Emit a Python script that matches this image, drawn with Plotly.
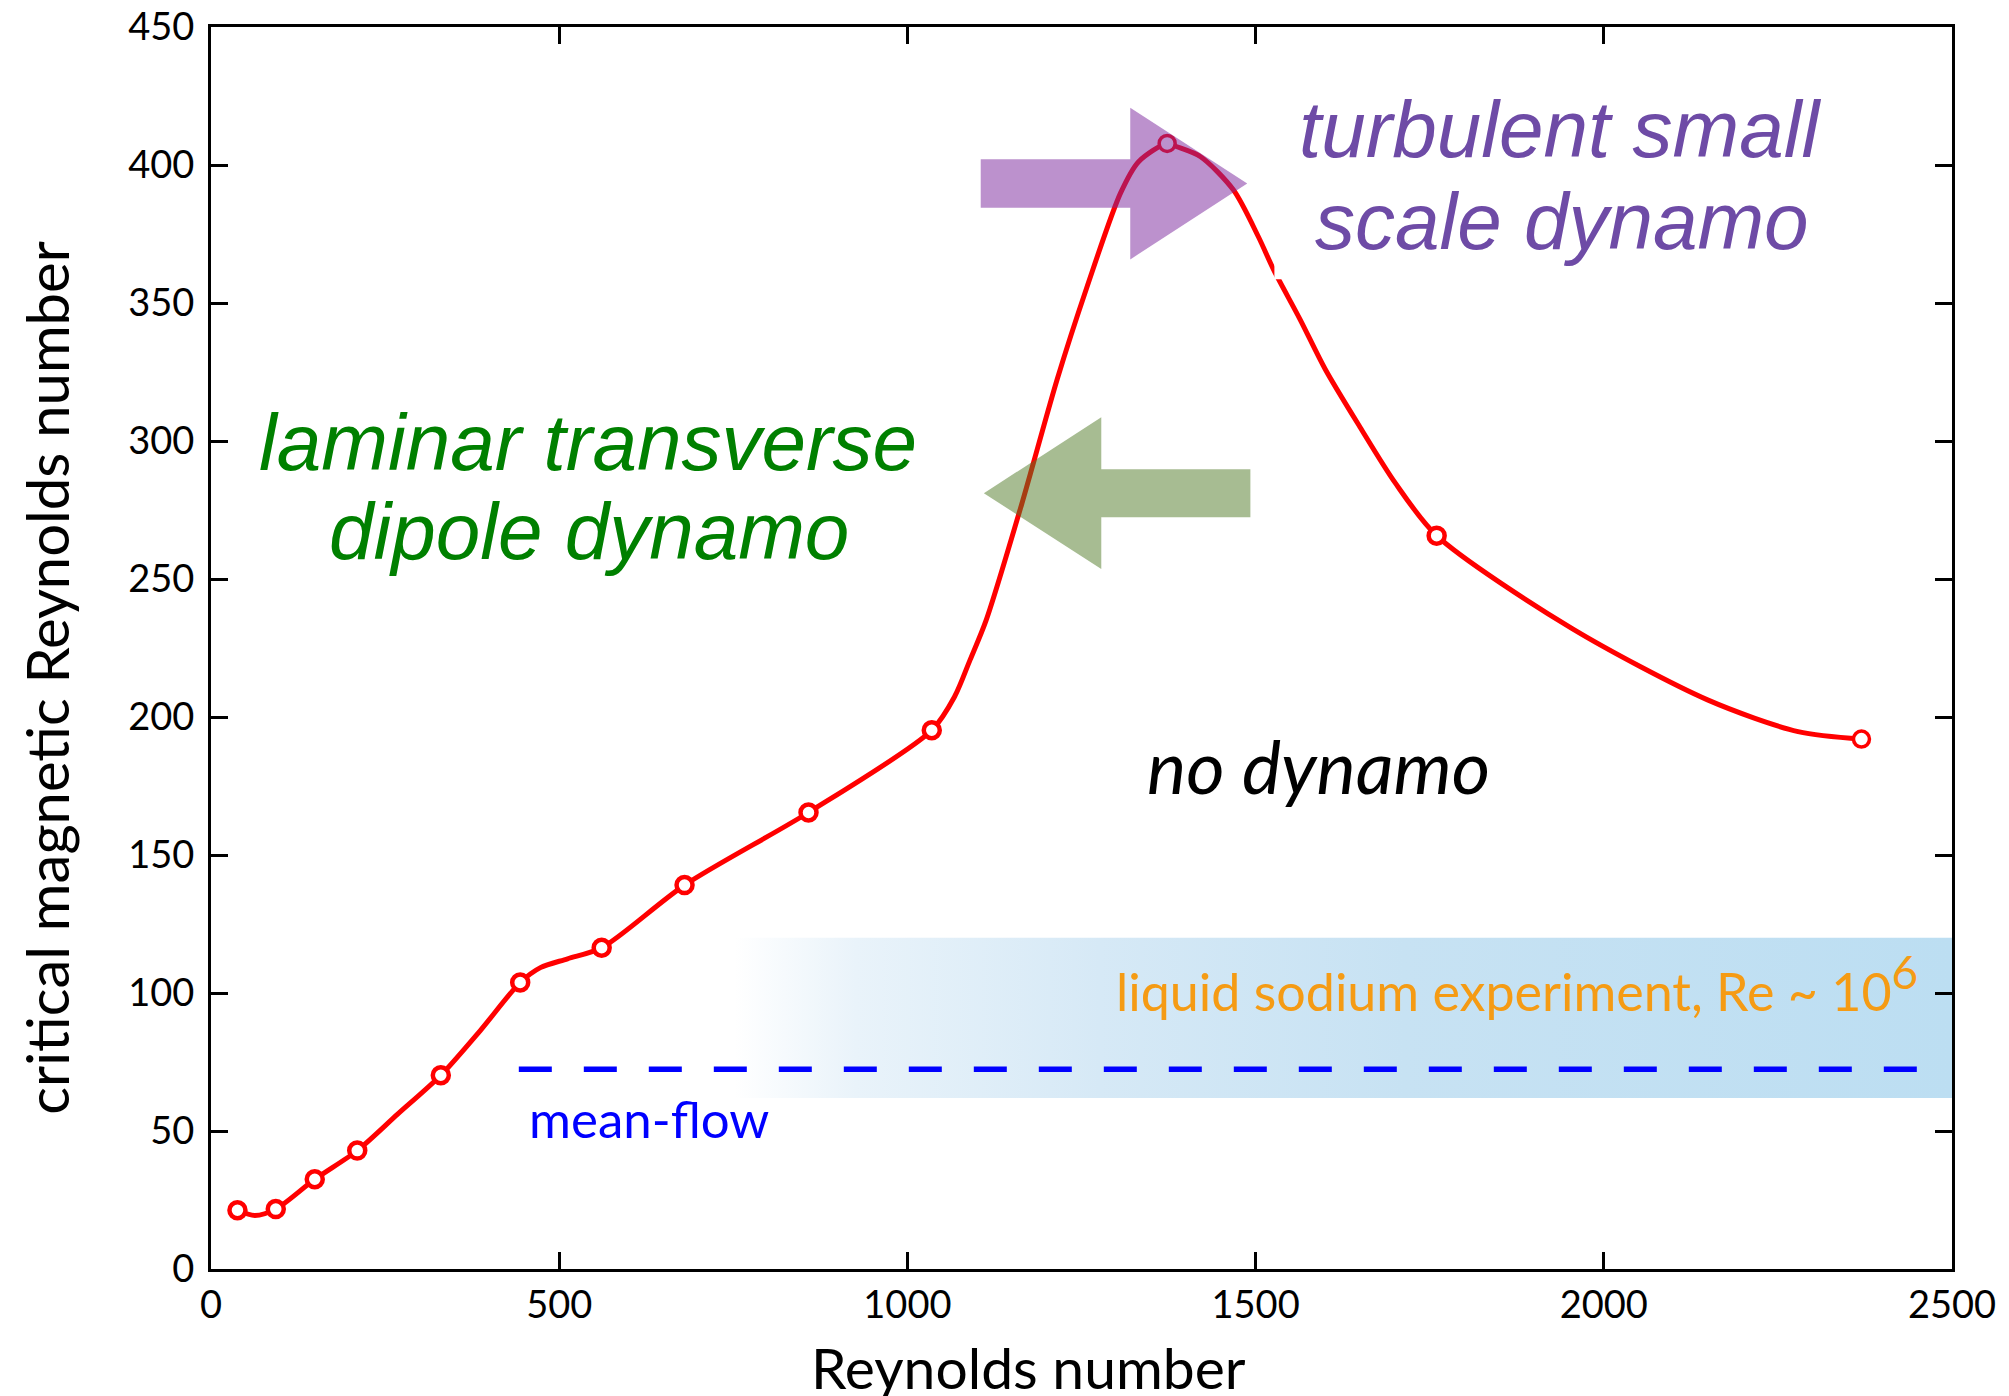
import plotly.graph_objects as go

# Critical magnetic Reynolds number from the simulations
re_points = [38, 93, 149, 210, 330, 444, 561, 680, 858, 1035, 1373, 1760, 2370]
rm_points = [21.3, 21.7, 32.5, 42.9, 70.2, 103.8, 116.4, 139.1, 165.4, 195.2, 407.8, 265.7, 192.0]

# Smooth guide curve drawn through the simulation results
curve_re = [38, 63, 93, 149, 210, 268, 330, 387, 444, 473, 512, 561, 680, 858,
            1035, 1068, 1090, 1113, 1164, 1215, 1258, 1306, 1332, 1373,
            1387, 1421, 1468, 1504, 1526, 1564, 1600, 1650, 1700, 1760,
            1954, 2149, 2279, 2370]
curve_rm = [21.3, 19.4, 21.7, 32.5, 42.9, 56.1, 70.2, 86.5, 103.8, 109.2, 112.4, 116.4, 139.1, 165.4,
            195.2, 207.5, 220.7, 235.0, 277.0, 322.3, 355.9, 389.8, 401.2, 407.8,
            406.6, 403.0, 391.0, 374.0, 362.0, 344.0, 326.0, 305.0, 285.0, 265.7,
            232.1, 206.2, 194.7, 192.0]

# Mean-flow dynamo threshold
meanflow_re = [442, 2464]
meanflow_rm = 72.4

# Parameter range reached by liquid sodium experiments
sodium_re = [752, 2500]
sodium_rm = [62, 120]

x_ticks = [0, 500, 1000, 1500, 2000, 2500]
y_ticks = [0, 50, 100, 150, 200, 250, 300, 350, 400, 450]

RED = "#FF0000"
MYRIAD = "Lato, 'Open Sans', sans-serif"
ARIAL = "'Liberation Sans', Arial, sans-serif"

fig = go.Figure()

# experiment band, fading in from the left
fig.add_trace(go.Scatter(
    x=[sodium_re[0], sodium_re[1], sodium_re[1], sodium_re[0], sodium_re[0]],
    y=[sodium_rm[0], sodium_rm[0], sodium_rm[1], sodium_rm[1], sodium_rm[0]],
    mode="none", fill="toself", hoverinfo="skip", showlegend=False,
    fillgradient=dict(
        type="horizontal",
        colorscale=[[0.0, "rgb(255,255,255)"],
                    [0.1, "rgb(233,243,250)"],
                    [0.3, "rgb(214,233,246)"],
                    [0.55, "rgb(199,226,243)"],
                    [1.0, "rgb(188,222,242)"]],
    ),
))

# mean-flow threshold
fig.add_trace(go.Scatter(
    x=meanflow_re, y=[meanflow_rm, meanflow_rm], mode="lines",
    line=dict(color="#0000FF", width=5.5, dash="33px,32px"),
    showlegend=False, hoverinfo="skip",
))

# guide curve
fig.add_trace(go.Scatter(
    x=curve_re, y=curve_rm, mode="lines",
    line=dict(color=RED, width=5, shape="spline", smoothing=0.8),
    showlegend=False, hoverinfo="skip",
))

# simulation points
marker_widths = [4.5] * 10 + [3.5, 4.5, 3.5]
fig.add_trace(go.Scatter(
    x=re_points, y=rm_points, mode="markers",
    marker=dict(symbol="circle", size=16, color="white",
                line=dict(color=RED, width=marker_widths)),
    showlegend=False,
))


def arrow_path(points):
    return "M " + " L ".join(f"{x},{y}" for x, y in points) + " Z"


# arrow pointing towards the turbulent regime
purple_arrow = [(1105.3, 384.5), (1320.0, 384.5), (1320.0, 365.8), (1488.0, 393.3),
                (1320.0, 420.7), (1320.0, 402.1), (1105.3, 402.1)]
# arrow pointing towards the laminar regime
green_arrow = [(1109.8, 281.1), (1278.4, 308.6), (1278.4, 289.8), (1492.5, 289.8),
               (1492.5, 272.4), (1278.4, 272.4), (1278.4, 253.6)]

fig.add_shape(type="path", path=arrow_path(purple_arrow), xref="x", yref="y",
              fillcolor="rgb(124,39,156)", opacity=0.51, line=dict(width=0), layer="above")
fig.add_shape(type="path", path=arrow_path(green_arrow), xref="x", yref="y",
              fillcolor="rgb(79,121,38)", opacity=0.5, line=dict(width=0), layer="above")
# text box backing that clips the curve
fig.add_shape(type="rect", x0=1527, x1=1564, y0=358.6, y1=369.2, xref="x", yref="y",
              fillcolor="white", line=dict(width=0), layer="above")


def label(text, x, y, color, size, family, italic=False, xanchor="center"):
    fig.add_annotation(
        text=text, x=x, y=y, xref="x", yref="y", showarrow=False,
        xanchor=xanchor, yanchor="bottom",
        font=dict(color=color, size=size, family=family,
                  style="italic" if italic else "normal"),
    )


label("laminar transverse", 541.8, 282.6, "#008000", 80, ARIAL, italic=True)
label("dipole dynamo", 543.2, 250.4, "#008000", 80, ARIAL, italic=True)
label("turbulent small", 1937.0, 395.9, "#6E4BA6", 80, ARIAL, italic=True)
label("scale dynamo", 1939.8, 362.7, "#6E4BA6", 80, ARIAL, italic=True)
label("no dynamo", 1590.1, 165.6, "black", 74, MYRIAD, italic=True)
label("liquid sodium experiment, Re ~ 10<sup><span style='font-size:46px'>6</span></sup>",
      1297.2, 88.8, "#F59B14", 52, MYRIAD, xanchor="left")
label("mean-flow", 629.4, 42.6, "#0000FF", 51, MYRIAD)

# axis titles
fig.add_annotation(text="Reynolds number", x=0.4693, y=-0.1076, xref="paper", yref="paper",
                   xanchor="center", yanchor="bottom", showarrow=False,
                   font=dict(size=57, family=MYRIAD, color="black"))
fig.add_annotation(text="critical magnetic Reynolds number", x=-0.095, y=0.4758,
                   xref="paper", yref="paper", xanchor="center", yanchor="middle",
                   textangle=-90, showarrow=False,
                   font=dict(size=58, family=MYRIAD, color="black"))

axis_common = dict(
    showline=True, linecolor="black", linewidth=3, mirror="ticks",
    ticks="inside", ticklen=17, tickwidth=2.5, tickcolor="black",
    showgrid=False, zeroline=False, automargin=False,
    tickfont=dict(size=38, family=MYRIAD, color="black"),
)
fig.update_xaxes(range=[0, 2500], tickvals=x_ticks, **axis_common)
fig.update_yaxes(range=[0, 450], tickvals=y_ticks, ticklabelstandoff=6, **axis_common)

fig.update_layout(
    width=2009, height=1396,
    margin=dict(l=211, r=57, t=27, b=127, autoexpand=False),
    paper_bgcolor="white", plot_bgcolor="white",
    showlegend=False,
)

fig.write_html("out.html")
